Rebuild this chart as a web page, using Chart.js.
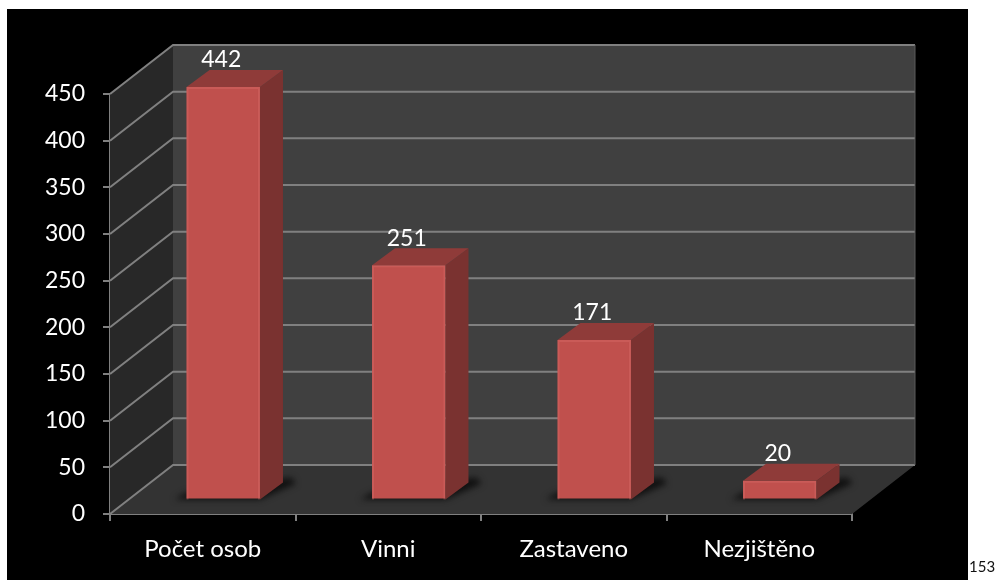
<!DOCTYPE html>
<html>
<head>
<meta charset="utf-8">
<script src="https://cdn.jsdelivr.net/npm/chart.js@4"></script>
<style>
  body { margin: 0; background: #fff; font-family: Lato, sans-serif; }
  #panel { position: absolute; left: 7px; top: 9px; width: 961px; height: 571px; background: #000; }
  #chart { position: absolute; left: 0; top: 0; }
  #pageno { position: absolute; left: 969px; top: 557px; font-size: 15px; color: #111; }
</style>
</head>
<body>
<div id="panel"></div>
<canvas id="chart" width="995" height="580"></canvas>
<div id="pageno">153</div>
<script>
const categories = ['Počet osob', 'Vinni', 'Zastaveno', 'Nezjištěno'];
const values = [442, 251, 171, 20];
const axisMax = 450;
const axisStep = 50;

// fake 3d: how far the back wall sits from the front axis, and the bars in between
const wall = { dx: 63, dy: -49 };
const barShift = { dx: 20.5, dy: -14.5 };
const barDepth = { dx: 23, dy: -17 };
const gridColor = '#808080';
const fontFamily = 'Lato, sans-serif';

function poly(ctx, pts, fill) {
  ctx.beginPath();
  pts.forEach((p, i) => (i ? ctx.lineTo(p[0], p[1]) : ctx.moveTo(p[0], p[1])));
  ctx.closePath();
  ctx.fillStyle = fill;
  ctx.fill();
}

const walls = {
  id: 'walls',
  beforeDatasetsDraw(chart) {
    const { ctx, chartArea: a, scales: { y } } = chart;
    ctx.save();
    // side wall, back wall, floor
    poly(ctx, [[a.left, a.top], [a.left + wall.dx, a.top + wall.dy], [a.left + wall.dx, a.bottom + wall.dy], [a.left, a.bottom]], '#282828');
    poly(ctx, [[a.left + wall.dx, a.top + wall.dy], [a.right + wall.dx, a.top + wall.dy], [a.right + wall.dx, a.bottom + wall.dy], [a.left + wall.dx, a.bottom + wall.dy]], '#404040');
    poly(ctx, [[a.left, a.bottom], [a.right, a.bottom], [a.right + wall.dx, a.bottom + wall.dy], [a.left + wall.dx, a.bottom + wall.dy]], '#333333');

    ctx.strokeStyle = gridColor;
    ctx.lineWidth = 2;
    y.ticks.forEach(t => {
      const py = y.getPixelForValue(t.value);
      ctx.beginPath();
      ctx.moveTo(a.left, py);
      ctx.lineTo(a.left + wall.dx, py + wall.dy);
      ctx.lineTo(a.right + wall.dx, py + wall.dy);
      ctx.stroke();
    });
    ctx.lineWidth = 1;
    ctx.strokeStyle = '#5a5a5a';
    ctx.beginPath();
    ctx.moveTo(a.right + wall.dx, a.top + wall.dy);
    ctx.lineTo(a.right + wall.dx, a.bottom + wall.dy);
    ctx.stroke();

    // soft bar shadows on the floor
    const base = y.getPixelForValue(0) + barShift.dy;
    chart.getDatasetMeta(0).data.forEach(bar => {
      const left = bar.x - bar.width / 2 + barShift.dx;
      const right = bar.x + bar.width / 2 + barShift.dx;
      ctx.save();
      ctx.filter = 'blur(3px)';
      poly(ctx, [[left - 12, base], [right, base], [right + barDepth.dx + 13, base + barDepth.dy + 1], [right + barDepth.dx + 8, base + barDepth.dy - 5], [left, base - 7]], 'rgba(12,12,12,0.9)');
      ctx.restore();
    });
    ctx.restore();
  },
  beforeDatasetDraw(chart) {
    chart.ctx.save();
    chart.ctx.translate(barShift.dx, barShift.dy);
  },
  afterDatasetDraw(chart) {
    chart.ctx.restore();
  },
  afterDatasetsDraw(chart) {
    const { ctx, scales: { y } } = chart;
    const base = y.getPixelForValue(0) + barShift.dy;
    ctx.save();
    chart.getDatasetMeta(0).data.forEach((bar, i) => {
      const left = bar.x - bar.width / 2 + barShift.dx;
      const right = bar.x + bar.width / 2 + barShift.dx;
      const top = bar.y + barShift.dy;
      const d = barDepth;
      // side and top faces of the box
      poly(ctx, [[right, top], [right + d.dx, top + d.dy], [right + d.dx, base + d.dy], [right, base]], '#7a3230');
      poly(ctx, [[left, top], [right, top], [right + d.dx, top + d.dy], [left + d.dx, top + d.dy]], '#8f3b39');
      // lit edges of the bevel
      ctx.strokeStyle = 'rgba(225,120,115,0.3)';
      ctx.lineWidth = 2;
      ctx.beginPath();
      ctx.moveTo(left + 1, base);
      ctx.lineTo(left + 1, top + 1);
      ctx.lineTo(right - 1, top + 1);
      ctx.lineTo(right - 1, base);
      ctx.stroke();
      // value above the box
      ctx.fillStyle = '#fff';
      ctx.font = '23px ' + fontFamily;
      ctx.textAlign = 'center';
      ctx.textBaseline = 'middle';
      ctx.fillText(String(values[i]), bar.x + barShift.dx - 2, top + d.dy - 10);
    });
    ctx.restore();
  }
};

new Chart(document.getElementById('chart'), {
  type: 'bar',
  data: {
    labels: categories,
    datasets: [{
      data: values,
      backgroundColor: '#c0504d',
      borderWidth: 0,
      barPercentage: 0.396,
      categoryPercentage: 1
    }]
  },
  options: {
    responsive: false,
    animation: false,
    layout: { padding: { top: 94, right: 143, left: 0, bottom: 0 } },
    plugins: { legend: { display: false }, tooltip: { enabled: false } },
    scales: {
      x: {
        afterFit(scale) { scale.height = 66; },
        grid: { color: gridColor, lineWidth: 2, drawOnChartArea: false, tickLength: 7 },
        border: { color: gridColor, width: 2 },
        ticks: { color: '#fff', padding: 14, font: { family: fontFamily, size: 24 }, maxRotation: 0 }
      },
      y: {
        min: 0,
        max: axisMax,
        afterFit(scale) { scale.width = 110; },
        grid: { color: gridColor, lineWidth: 2, drawOnChartArea: false, tickLength: 7 },
        border: { color: gridColor, width: 2 },
        ticks: { color: '#fff', stepSize: axisStep, padding: 18, font: { family: fontFamily, size: 23 } }
      }
    }
  },
  plugins: [walls]
});
</script>
</body>
</html>
